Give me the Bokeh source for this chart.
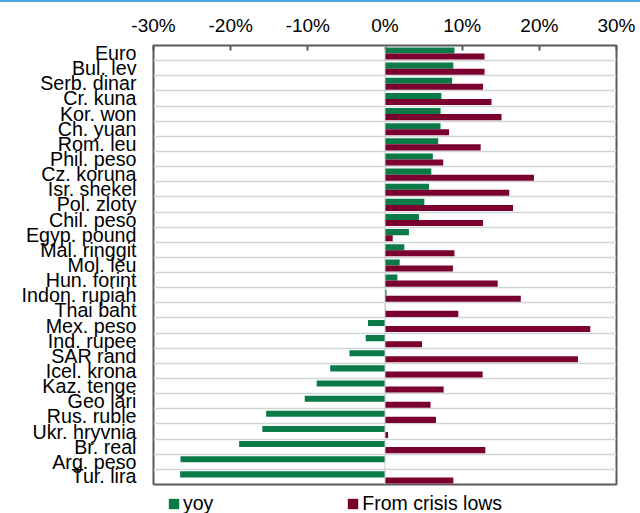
from bokeh.plotting import figure
from bokeh.models import (Range1d, FixedTicker, PrintfTickFormatter, Legend, LegendItem,
                          ColumnDataSource, Div, Span, Grid)
from bokeh.layouts import column
from bokeh.embed import file_html
from bokeh.resources import INLINE

categories = ["Euro", "Bul. lev", "Serb. dinar", "Cr. kuna", "Kor. won", "Ch. yuan", "Rom. leu",
              "Phil. peso", "Cz. koruna", "Isr. shekel", "Pol. zloty", "Chil. peso", "Egyp. pound",
              "Mal. ringgit", "Mol. leu", "Hun. forint", "Indon. rupiah", "Thai baht", "Mex. peso",
              "Ind. rupee", "SAR rand", "Icel. krona", "Kaz. tenge", "Geo lari", "Rus. ruble",
              "Ukr. hryvnia", "Br. real", "Arg. peso", "Tur. lira"]
yoy = [9.0, 8.85, 8.7, 7.3, 7.2, 7.2, 6.9, 6.2, 6.0, 5.7, 5.1, 4.4, 3.1, 2.5, 1.9, 1.6, 0.2, 0.05,
       -2.2, -2.5, -4.6, -7.1, -8.85, -10.4, -15.4, -15.9, -18.9, -26.5, -26.55]
crisis_lows = [12.9, 12.9, 12.7, 13.8, 15.1, 8.3, 12.4, 7.55, 19.3, 16.1, 16.6, 12.7, 1.0, 9.0, 8.8,
               14.6, 17.6, 9.5, 26.6, 4.8, 25.0, 12.65, 7.6, 5.9, 6.6, 0.4, 13.0, 0.0, 8.85]
x_ticks = [-30, -20, -10, 0, 10, 20, 30]
series_names = ["yoy", "From crisis lows"]

FONT = "Liberation Sans"
GREEN = "#0a7a46"
RED = "#7a0030"
n = len(categories)
centers = [n - i - 0.5 for i in range(n)]

src = ColumnDataSource(dict(
    cat=categories,
    yoy=yoy,
    lows=crisis_lows,
    y_g=[c + 0.17 for c in centers],
    y_r=[c - 0.23 for c in centers],
))

p = figure(width=640, height=484, output_backend="svg", toolbar_location=None,
           x_range=Range1d(x_ticks[0], x_ticks[-1]), y_range=Range1d(0, n),
           x_axis_location="above",
           min_border_left=153, min_border_right=24, min_border_top=43, min_border_bottom=2)

p.outline_line_color = "#5a5a5a"
p.outline_line_width = 2
p.background_fill_color = "white"
p.border_fill_color = "white"

# Grid between categories
p.xgrid.visible = False
p.ygrid.visible = False
g = Grid(dimension=1, ticker=FixedTicker(ticks=list(range(1, n))),
         grid_line_color="#d2d5d8", grid_line_width=1.5)
p.add_layout(g)

p.add_layout(Span(location=0, dimension="height", line_color="#c8cbce", line_width=1))

r1 = p.hbar(y="y_g", right="yoy", left=0, height=0.4, source=src, fill_color=GREEN,
            line_color=None)
r2 = p.hbar(y="y_r", right="lows", left=0, height=0.4, source=src, fill_color=RED,
            line_color=None)

# Top axis
xa = p.xaxis[0]
xa.ticker = FixedTicker(ticks=x_ticks)
xa.formatter = PrintfTickFormatter(format="%d%%")
xa.axis_line_color = None
xa.major_tick_in = 5
xa.major_tick_out = 0
xa.major_tick_line_color = "#5a5a5a"
xa.major_tick_line_width = 2
xa.minor_tick_line_color = None
xa.major_label_text_font = FONT
xa.major_label_text_font_size = "19px"
xa.major_label_text_color = "#000000"
xa.major_label_standoff = 10

# Left category axis
ya = p.yaxis[0]
ya.ticker = FixedTicker(ticks=centers)
ya.major_label_overrides = {c: name for c, name in zip(centers, categories)}
ya.axis_line_color = None
ya.major_tick_line_color = None
ya.major_tick_out = 0
ya.major_tick_in = 0
ya.minor_tick_line_color = None
ya.major_label_text_font = FONT
ya.major_label_text_font_size = "19.7px"
ya.major_label_text_color = "#000000"
ya.major_label_standoff = 17

# Legend strip (separate small figure below the chart)
lf = figure(width=640, height=27, output_backend="svg", toolbar_location=None,
            x_range=Range1d(x_ticks[0], x_ticks[-1]), y_range=Range1d(0, n),
            x_axis_location=None, y_axis_location=None,
            min_border_left=0, min_border_right=0, min_border_top=0, min_border_bottom=0)
lf.outline_line_color = None
lf.grid.visible = False
l1 = lf.hbar(y="y_g", right="yoy", left=0, height=0.4, source=src, fill_color=GREEN,
             line_color=None, visible=False)
l2 = lf.hbar(y="y_r", right="lows", left=0, height=0.4, source=src, fill_color=RED,
             line_color=None, visible=False)
legend = Legend(items=[LegendItem(label=series_names[0], renderers=[l1]),
                       LegendItem(label=series_names[1], renderers=[l2])],
                orientation="horizontal", location=(14, -2),
                glyph_width=13, glyph_height=13, label_standoff=3, spacing=133,
                padding=0, margin=0, border_line_color=None, background_fill_alpha=0,
                label_text_font=FONT, label_text_font_size="19.5px", label_text_color="#000000")
lf.add_layout(legend, "center")

top_bar = Div(width=640, height=2, margin=(0, 0, 0, 0),
              styles={"background-color": "#45a8de"})
layout = column(top_bar, p, lf, spacing=0)

open("out.html", "w").write(file_html(layout, INLINE))
